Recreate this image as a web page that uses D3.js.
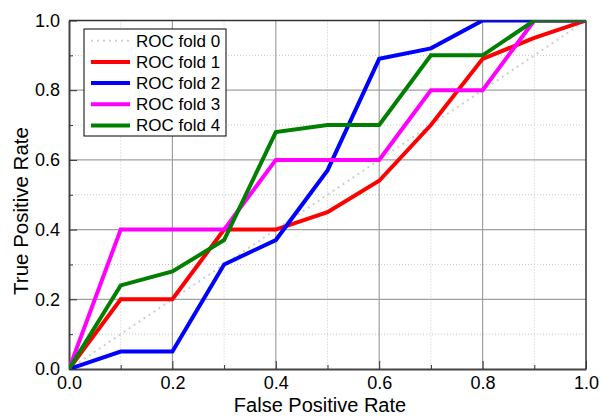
<!DOCTYPE html>
<html>
<head>
<meta charset="utf-8">
<script src="https://cdn.jsdelivr.net/npm/d3@7"></script>
<style>
  body { margin: 0; background: #fff; }
  text { font-family: Arial, "Liberation Sans", sans-serif; fill: #000; }
</style>
</head>
<body>
<script>
// ROC curves, one per fold
const fpr = [0, 0.1, 0.2, 0.3, 0.4, 0.5, 0.6, 0.7, 0.8, 0.9, 1.0];
const fold0 = [0, 0.1, 0.2, 0.3, 0.4, 0.5, 0.6, 0.7, 0.8, 0.9, 1.0];
const fold1 = [0, 0.2, 0.2, 0.4, 0.4, 0.45, 0.54, 0.7, 0.89, 0.95, 1.0];
const fold2 = [0, 0.05, 0.05, 0.3, 0.37, 0.57, 0.89, 0.92, 1.0, 1.0, 1.0];
const fold3 = [0, 0.4, 0.4, 0.4, 0.6, 0.6, 0.6, 0.8, 0.8, 1.0, 1.0];
const fold4 = [0, 0.24, 0.28, 0.37, 0.68, 0.7, 0.7, 0.9, 0.9, 1.0, 1.0];

const seriesNames = ["ROC fold 0", "ROC fold 1", "ROC fold 2", "ROC fold 3", "ROC fold 4"];
const seriesColors = ["#cfcfcf", "#ff0000", "#0000ff", "#ff00ff", "#007f00"];
const majorTicks = [0, 0.2, 0.4, 0.6, 0.8, 1.0];
const minorTicks = [0.1, 0.3, 0.5, 0.7, 0.9];

const series = [fold0, fold1, fold2, fold3, fold4];

const W = 601, H = 416;
const plot = { left: 69, right: 586, top: 20.5, bottom: 369 };

const x = d3.scaleLinear().domain([0, 1]).range([plot.left, plot.right]);
const y = d3.scaleLinear().domain([0, 1]).range([plot.bottom, plot.top]);

const svg = d3.select("body").append("svg")
    .attr("width", W)
    .attr("height", H);

svg.append("defs").append("clipPath").attr("id", "clip")
  .append("rect")
    .attr("x", plot.left).attr("y", plot.top)
    .attr("width", plot.right - plot.left)
    .attr("height", plot.bottom - plot.top);

// grid
const grid = svg.append("g");
grid.selectAll(".minx").data(minorTicks).enter().append("line")
    .attr("x1", d => x(d)).attr("x2", d => x(d))
    .attr("y1", plot.top).attr("y2", plot.bottom)
    .attr("stroke", "#c8c8c8").attr("stroke-dasharray", "1,2");
grid.selectAll(".miny").data(minorTicks).enter().append("line")
    .attr("y1", d => y(d)).attr("y2", d => y(d))
    .attr("x1", plot.left).attr("x2", plot.right)
    .attr("stroke", "#c8c8c8").attr("stroke-dasharray", "1,2");
grid.selectAll(".majx").data(majorTicks.slice(1, -1)).enter().append("line")
    .attr("x1", d => x(d)).attr("x2", d => x(d))
    .attr("y1", plot.top).attr("y2", plot.bottom)
    .attr("stroke", "#a0a0a0").attr("stroke-width", 1.2);
grid.selectAll(".majy").data(majorTicks.slice(1, -1)).enter().append("line")
    .attr("y1", d => y(d)).attr("y2", d => y(d))
    .attr("x1", plot.left).attr("x2", plot.right)
    .attr("stroke", "#a0a0a0").attr("stroke-width", 1.2);

// axes with inward ticks
const xAxis = svg.append("g")
    .attr("transform", `translate(0,${plot.bottom})`)
    .call(d3.axisBottom(x).tickValues(majorTicks).tickFormat(d3.format(".1f"))
      .tickSizeInner(-8).tickSizeOuter(0).tickPadding(7));
xAxis.selectAll("text").style("font-size", "18px");

const xMinor = svg.append("g")
    .attr("transform", `translate(0,${plot.bottom})`)
    .call(d3.axisBottom(x).tickValues(minorTicks).tickFormat("")
      .tickSizeInner(-4).tickSizeOuter(0));
xMinor.select(".domain").remove();

const yAxis = svg.append("g")
    .attr("transform", `translate(${plot.left},0)`)
    .call(d3.axisLeft(y).tickValues(majorTicks).tickFormat(d3.format(".1f"))
      .tickSizeInner(-8).tickSizeOuter(0).tickPadding(9));
yAxis.selectAll("text").style("font-size", "18px");

const yMinor = svg.append("g")
    .attr("transform", `translate(${plot.left},0)`)
    .call(d3.axisLeft(y).tickValues(minorTicks).tickFormat("")
      .tickSizeInner(-4).tickSizeOuter(0));
yMinor.select(".domain").remove();

svg.selectAll(".tick line").attr("stroke", "#333");
svg.selectAll(".domain").attr("stroke", "#444").attr("stroke-width", 2);

// top and right frame
svg.append("line")
    .attr("x1", plot.left).attr("x2", plot.right)
    .attr("y1", plot.top).attr("y2", plot.top)
    .attr("stroke", "#333").attr("stroke-width", 1.5);
svg.append("line")
    .attr("x1", plot.right).attr("x2", plot.right)
    .attr("y1", plot.top).attr("y2", plot.bottom)
    .attr("stroke", "#333").attr("stroke-width", 1.5);

// curves
const line = d3.line()
    .x((d, i) => x(fpr[i]))
    .y(d => y(d));

const curves = svg.append("g").attr("clip-path", "url(#clip)");
series.forEach((s, k) => {
  curves.append("path")
      .datum(s)
      .attr("d", line)
      .attr("fill", "none")
      .attr("stroke", seriesColors[k])
      .attr("stroke-width", k === 0 ? 2 : 4)
      .attr("stroke-dasharray", k === 0 ? "2,4" : null)
      .attr("stroke-linejoin", "miter");
});

// legend
const legend = svg.append("g").attr("transform", "translate(84,29)");
legend.append("rect")
    .attr("width", 142).attr("height", 107)
    .attr("fill", "#fff").attr("stroke", "#000").attr("stroke-width", 1);

seriesNames.forEach((name, k) => {
  const cy = 11.7 + k * 21.2;
  legend.append("line")
      .attr("x1", 7).attr("x2", 46)
      .attr("y1", cy).attr("y2", cy)
      .attr("stroke", seriesColors[k])
      .attr("stroke-width", k === 0 ? 2 : 4)
      .attr("stroke-dasharray", k === 0 ? "2,4" : null);
  legend.append("text")
      .attr("x", 52).attr("y", cy)
      .attr("dy", "0.35em")
      .style("font-size", "17px")
      .text(name);
});

// axis titles
svg.append("text")
    .attr("x", 320).attr("y", 411.5)
    .attr("text-anchor", "middle")
    .style("font-size", "20px")
    .text("False Positive Rate");

svg.append("text")
    .attr("transform", "translate(28,211) rotate(-90)")
    .attr("text-anchor", "middle")
    .style("font-size", "20.5px")
    .text("True Positive Rate");
</script>
</body>
</html>
